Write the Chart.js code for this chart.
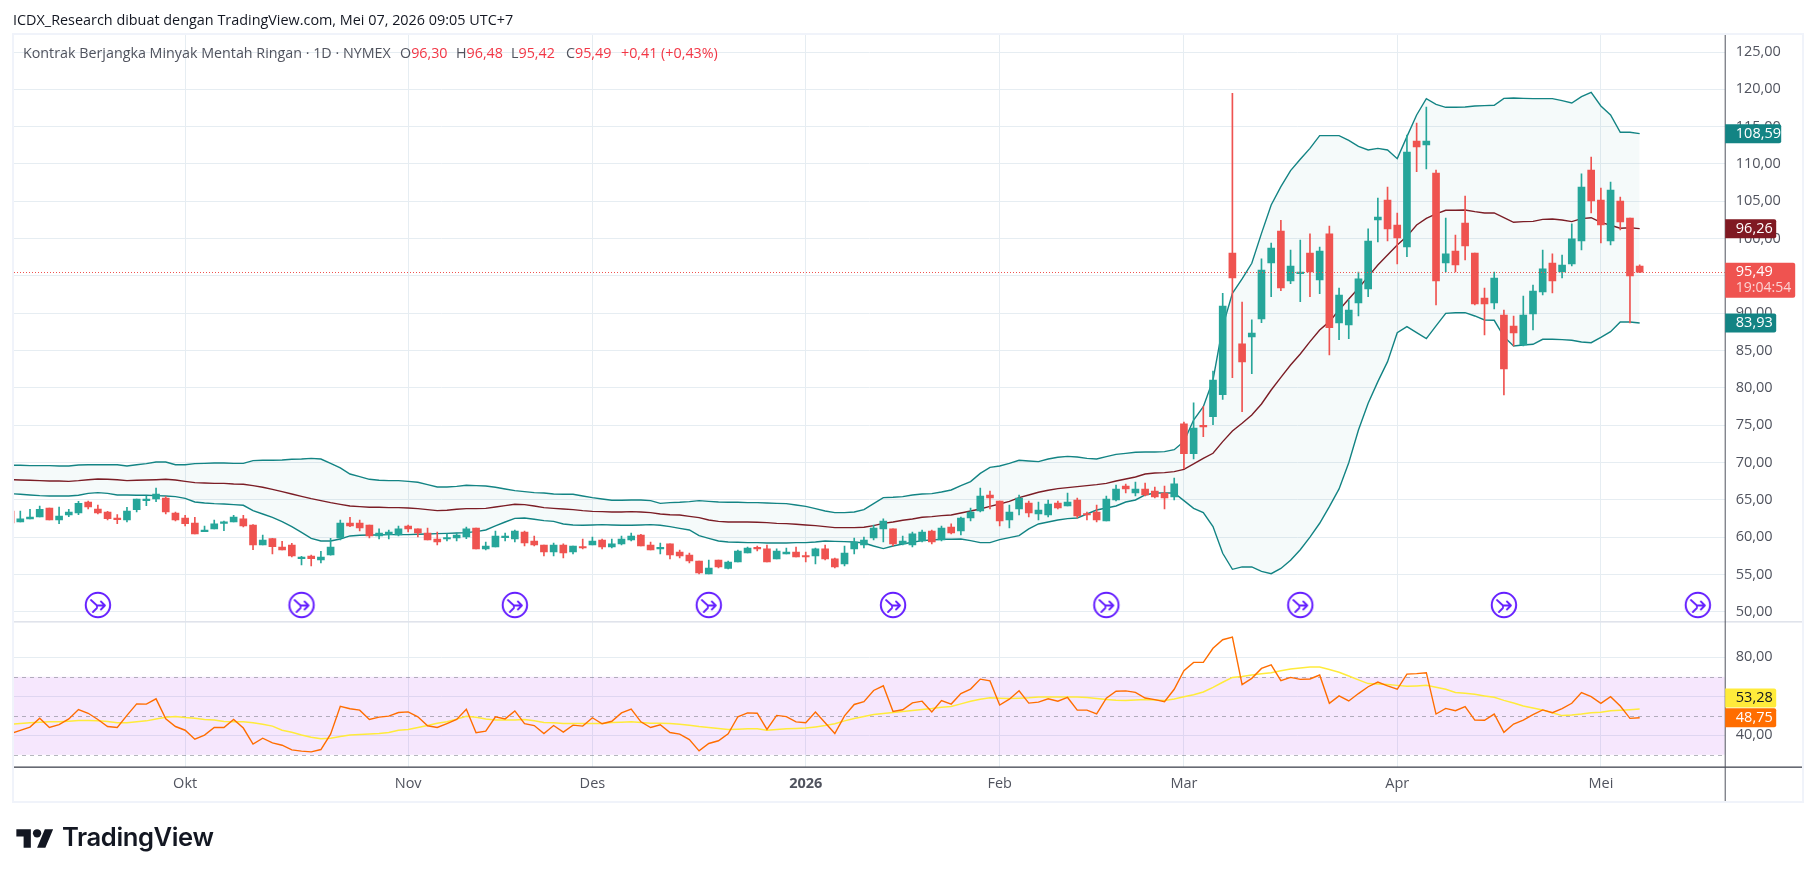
<!DOCTYPE html>
<html><head><meta charset="utf-8">
<script src="https://cdn.jsdelivr.net/npm/chart.js@4/dist/chart.umd.js"></script>
<style>
html,body{margin:0;padding:0;background:#fff;width:1814px;height:877px;overflow:hidden}
canvas{position:absolute;left:0;top:0}
.t{position:absolute;white-space:pre;font-family:"Open Sans",sans-serif}
#title{left:13px;top:10px;font-size:14.4px;color:#131722}
.lg{top:43px;font-size:14.3px;color:#50535e}
.lg b{font-weight:400;color:#f23645}
#brand{left:62px;top:821px;font-family:Inter,sans-serif;font-weight:600;font-size:25.6px;color:#131722;letter-spacing:-.4px}
#logo{position:absolute;left:16px;top:825px}
</style></head><body>
<canvas id="c" width="1814" height="877"></canvas>
<div class="t" id="title">ICDX_Research dibuat dengan TradingView.com, Mei 07, 2026 09:05 UTC+7</div>
<div class="t lg" style="left:23px">Kontrak Berjangka Minyak Mentah Ringan · 1D · NYMEX</div>
<div class="t lg" style="left:400px">O<b>96,30</b></div>
<div class="t lg" style="left:456px">H<b>96,48</b></div>
<div class="t lg" style="left:511px">L<b>95,42</b></div>
<div class="t lg" style="left:566px">C<b>95,49</b></div>
<div class="t lg" style="left:621px"><b>+0,41 (+0,43%)</b></div>
<svg id="logo" width="38" height="29" viewBox="0 0 36 28"><path fill="#131722" d="M14 22H7V11H0V4h14v18zM28 22h-8l7.5-18h8L28 22z"/><circle fill="#131722" cx="20" cy="8" r="4"/></svg>
<div class="t" id="brand">TradingView</div>
<script>
const opens=[63.5,62.02,62.43,62.69,63.90,62.29,62.96,63.23,64.70,63.76,
63.36,62.38,62.29,63.68,64.88,65.10,65.24,63.23,62.56,61.89,
60.73,61.09,61.84,62.02,62.43,61.62,58.94,59.79,58.67,58.94,
57.11,57.47,56.93,57.60,59.88,61.89,61.89,61.62,60.15,60.33,
60.28,61.49,61.09,60.55,59.74,59.74,59.88,60.01,61.22,58.41,
58.67,59.92,59.74,60.68,59.48,58.94,58.00,58.94,58.00,58.67,
58.94,59.61,58.67,59.08,59.61,60.28,58.94,58.41,59.08,58.00,
57.60,56.80,55.06,56.93,55.81,56.66,57.87,58.58,58.41,57.07,
57.73,58.00,57.47,57.47,58.41,57.07,56.39,58.41,58.94,59.88,
61.09,61.09,59.08,58.94,59.48,60.82,59.61,61.35,60.82,62.56,
63.50,65.64,64.84,62.29,63.76,64.57,63.09,62.96,64.57,64.17,
64.97,63.09,63.36,62.16,64.97,66.85,65.91,66.44,66.18,65.91,
65.37,75.16,71.18,74.85,76.14,79.09,98.07,85.88,86.82,89.23,
96.73,101.02,94.32,95.3,98.07,94.45,100.62,88.69,88.42,91.37,
93.25,102.49,105.17,101.82,98.87,113.08,112.54,108.79,96.73,98.34,
102.09,98.07,92.04,91.37,89.76,88.29,85.74,89.9,92.85,96.73,
95.52,96.6,99.68,109.19,105.17,99.68,105.04,102.76,96.30];
const highs=[63.6,63.50,63.72,64.17,63.90,64.03,63.72,64.79,64.84,64.30,
63.45,63.01,63.99,65.10,65.51,66.58,65.42,63.36,62.92,62.65,
61.49,62.29,62.16,62.92,62.92,61.67,60.28,59.83,59.43,59.16,
57.42,57.60,58.09,59.83,62.29,62.65,62.29,61.62,61.09,60.95,
61.49,61.62,61.09,61.22,60.68,60.42,60.55,61.35,61.22,59.34,
60.82,60.55,60.95,60.82,60.15,58.94,59.21,59.08,58.81,59.74,
60.01,59.74,59.74,60.15,60.55,60.37,59.34,59.21,59.08,58.27,
57.87,56.80,56.93,56.93,56.80,58.27,58.67,58.81,58.94,58.41,
58.54,58.67,58.00,58.54,58.94,57.20,58.81,59.88,60.01,61.62,
62.43,61.09,60.15,60.68,60.95,60.95,61.49,61.76,62.69,63.90,
66.58,66.18,64.84,64.30,65.64,64.84,64.70,64.97,64.84,65.91,
65.24,63.36,64.30,65.51,66.98,67.11,67.38,67.25,66.71,66.85,
67.92,75.4,78.0,77.48,82.26,92.67,119.46,91.5,89.1,97.27,
99.41,102.45,98.47,99.81,100.62,98.87,101.69,93.38,91.8,95.52,
101.29,105.44,106.91,103.43,113.88,115.49,117.63,109.19,102.76,100.48,
105.71,98.07,93.38,95.52,90.43,89.63,92.31,93.78,98.47,97.94,
97.8,101.96,108.66,110.93,106.78,107.58,105.57,102.76,96.48];
const lows=[61.5,62.02,62.43,62.69,62.29,61.80,62.74,63.01,63.76,63.09,
62.29,61.80,62.02,63.36,64.21,64.75,63.09,62.16,61.49,60.42,
60.73,61.09,60.86,62.02,61.35,58.32,58.94,57.73,58.27,57.33,
56.26,56.13,56.53,57.56,59.61,61.40,60.82,59.88,59.74,59.74,
60.15,60.68,60.01,59.61,58.94,59.48,59.48,59.79,58.41,58.27,
58.67,59.48,59.34,58.81,58.81,57.47,57.47,57.20,57.73,58.41,
58.94,58.41,58.54,58.94,59.48,58.81,58.27,57.73,57.07,57.20,
56.53,55.06,55.06,55.86,55.72,56.66,57.87,58.14,56.66,57.07,
57.73,57.33,56.66,56.39,56.93,55.86,56.13,57.73,58.54,59.61,
59.34,58.81,58.94,58.67,59.34,59.08,59.48,60.42,60.28,62.16,
63.36,63.76,61.49,61.22,62.96,62.69,62.29,62.69,63.76,64.17,
62.56,62.29,62.02,62.16,64.84,65.91,65.51,65.51,65.24,63.76,
64.97,69.17,70.47,73.46,75.07,78.46,81.37,76.81,81.9,88.74,
92.22,93.02,93.96,91.55,92.22,92.62,84.4,86.46,86.59,89.63,
92.22,99.54,99.68,96.6,97.58,108.97,109.33,91.1,95.52,95.52,
97.13,91.1,87.08,90.57,79.04,85.61,85.61,87.76,92.44,92.71,
94.72,96.33,98.47,103.43,99.41,99.14,101.15,88.69,95.42];
const closes=[61.9,62.43,62.69,63.72,62.29,62.83,63.36,64.52,64.03,63.23,
62.47,62.34,63.50,65.10,65.06,65.77,63.36,62.29,61.80,60.42,
60.95,61.76,61.93,62.69,61.49,58.94,59.61,58.72,58.27,57.47,
57.20,57.11,57.33,58.67,61.89,61.49,61.22,60.15,60.55,60.68,
61.09,61.09,60.55,59.61,59.34,59.88,60.28,61.09,58.41,58.81,
60.15,60.01,60.82,59.21,58.94,58.00,58.94,57.87,58.81,58.54,
59.48,58.67,59.08,59.74,60.15,58.81,58.27,58.54,57.60,57.47,
56.80,55.19,55.86,56.00,56.66,58.14,58.54,58.41,56.66,58.14,
58.00,57.33,57.33,58.41,57.07,56.00,57.87,59.34,59.61,61.22,
62.16,59.08,59.48,60.42,60.68,59.34,61.22,60.55,62.56,63.36,
65.51,65.24,62.16,63.36,65.24,63.23,63.63,64.43,63.90,64.70,
62.83,62.96,62.29,65.10,66.44,66.44,66.44,65.64,65.37,65.24,
67.12,71.18,74.62,74.76,81.05,90.97,94.72,83.47,87.35,95.79,
98.74,93.38,96.33,95.52,95.52,98.34,88.07,92.44,90.43,94.59,
99.68,102.89,101.29,100.08,111.6,112.27,113.08,94.32,97.94,96.46,
99.01,91.24,91.24,94.72,82.53,87.35,89.76,92.98,95.93,94.32,
96.46,99.95,106.91,105.04,101.82,106.51,102.22,95.0,95.49];
const bbUpper=[69.62,69.62,69.57,69.57,69.57,69.53,69.53,69.66,69.70,69.70,69.70,69.70,69.53,69.70,69.84,70.06,70.06,69.70,69.70,69.84,69.88,69.93,69.93,69.88,69.88,70.24,70.29,70.29,70.33,70.42,70.46,70.55,70.46,69.88,69.26,68.45,68.10,67.74,67.61,67.56,67.56,67.47,67.34,67.03,66.71,66.71,66.80,66.94,66.89,66.85,66.67,66.44,66.22,66.09,65.95,65.91,65.77,65.73,65.73,65.51,65.28,
65.10,64.93,64.93,64.97,64.97,64.88,64.52,64.61,64.66,64.75,64.88,64.79,64.70,64.66,64.66,64.61,64.61,64.57,64.52,64.48,64.30,64.12,63.81,63.50,63.27,63.27,63.36,63.68,64.48,65.28,65.33,65.42,65.64,65.77,65.82,66.04,66.31,66.89,67.43,68.54,69.35,69.53,69.88,70.29,70.20,70.11,70.46,70.69,70.82,70.73,70.55,70.46,70.78,71.09,71.22,71.36,71.40,71.40,71.45,71.71,
72.8,75.69,77.48,81.05,88.2,92.67,94.59,96.69,100.7,104.5,106.96,109.1,110.62,112.09,113.79,113.79,113.79,113.17,112.36,111.87,112.09,111.87,110.71,113.66,116.56,118.75,117.99,117.59,117.59,117.63,117.77,117.81,117.86,118.79,118.84,118.79,118.75,118.75,118.75,118.48,118.17,119.02,119.6,117.77,116.56,114.24,114.24,114.06];
const bbMiddle=[67.69,67.65,67.61,67.56,67.52,67.52,67.47,67.56,67.69,67.78,67.74,67.69,67.56,67.61,67.65,67.69,67.74,67.65,67.47,67.29,67.25,67.20,67.20,67.11,67.07,66.89,66.67,66.40,66.09,65.77,65.46,65.15,64.88,64.61,64.39,64.17,64.08,63.99,63.99,63.94,63.94,63.90,63.81,63.68,63.54,63.59,63.72,63.81,63.81,63.85,64.03,64.21,64.39,64.35,64.17,63.94,63.85,63.76,63.68,63.54,63.45,
63.41,63.36,63.36,63.41,63.36,63.27,63.09,63.00,62.96,62.78,62.60,62.29,62.11,62.02,62.02,62.02,61.98,61.93,61.84,61.80,61.71,61.62,61.53,61.40,61.26,61.26,61.26,61.31,61.53,61.84,62.02,62.25,62.43,62.65,62.74,62.87,62.96,63.23,63.50,63.76,64.12,64.43,64.79,65.28,65.64,66.00,66.27,66.49,66.62,66.76,66.89,67.03,67.20,67.52,67.78,68.05,68.45,68.59,68.63,68.77,
69.08,69.80,70.56,71.23,72.79,74.22,75.25,76.36,77.84,79.71,81.41,83.06,84.54,86.19,87.75,88.87,90.43,91.9,93.34,94.9,96.46,97.8,99.14,100.3,101.82,102.71,103.3,103.79,103.79,103.83,103.61,103.43,103.43,102.8,102.18,102.27,102.31,102.58,102.63,102.49,102.27,102.67,102.8,102.18,101.78,101.38,101.46,101.33];
const bbLower=[65.82,65.73,65.64,65.55,65.51,65.51,65.51,65.60,65.86,65.95,65.86,65.64,65.64,65.60,65.60,65.55,65.51,65.42,65.19,64.70,64.57,64.48,64.43,64.35,64.26,63.54,63.09,62.65,62.07,61.40,60.64,59.83,59.48,59.48,59.74,60.15,60.24,60.28,60.28,60.33,60.33,60.33,60.37,60.42,60.46,60.50,60.55,60.59,60.73,60.95,61.49,62.02,62.51,62.56,62.38,62.20,62.11,61.76,61.62,61.58,61.62,
61.67,61.62,61.58,61.58,61.62,61.67,61.58,61.40,61.17,60.95,60.19,59.83,59.48,59.34,59.30,59.25,59.25,59.21,59.21,59.21,59.25,59.25,59.34,59.48,59.43,59.39,59.34,59.21,58.81,58.45,58.81,59.08,59.30,59.52,59.61,59.70,59.70,59.74,59.52,59.25,59.25,59.66,59.92,60.19,61.09,61.76,62.02,62.29,62.47,62.56,63.09,63.63,63.90,64.17,64.70,64.97,65.64,65.91,65.91,65.91,
64.88,63.85,63.27,61.40,57.83,55.68,56.0,56.0,55.4,55.1,55.8,56.9,58.3,60.0,61.85,64.08,66.45,69.97,74.35,77.93,80.83,83.51,87.39,88.2,87.39,86.59,88.3,89.98,90.07,90.07,89.63,89.09,89.05,86.86,85.61,85.74,85.83,86.5,86.5,86.46,86.37,86.14,86.05,86.77,87.53,88.82,88.82,88.69];
const rsi=[40.9,42.5,44.2,48.8,44.0,45.5,48.4,53.2,51.3,48.1,44.5,44.0,50.2,56.1,56.0,58.7,48.4,44.5,42.6,38.0,40.1,44.0,44.0,48.1,43.7,35.5,38.5,36.1,34.9,32.5,31.9,31.5,32.7,40.6,54.9,53.6,52.9,48.1,49.3,49.8,51.7,52.0,49.5,44.9,44.0,46.0,48.1,53.4,41.3,42.1,49.5,48.4,52.5,46.0,45.0,40.9,45.0,41.6,45.2,
44.7,49.0,45.9,47.2,51.5,53.4,46.9,44.0,45.4,41.4,40.6,37.8,32.0,35.8,37.2,40.8,49.5,51.5,51.3,43.0,50.2,49.6,46.9,46.4,51.9,46.4,40.9,50.0,55.8,57.2,63.0,65.4,52.2,53.1,56.6,57.5,52.0,57.8,56.0,61.4,63.7,68.8,67.9,55.5,58.5,62.8,56.5,57.0,58.7,57.5,59.4,52.9,52.9,51.0,59.0,62.6,62.8,
62.0,59.1,58.3,57.2,63.6,73.1,77.4,77.4,84.6,89.0,90.4,66.0,69.2,74.3,76.1,68.0,69.7,68.7,68.9,70.9,56.4,60.2,57.6,61.4,64.9,67.3,65.3,63.6,71.4,71.6,72.1,50.9,53.8,52.6,54.7,47.8,47.7,50.9,41.5,45.8,47.8,50.6,53.0,51.6,53.7,56.4,61.9,59.8,56.4,59.8,55.0,48.7,49.0];
const rsiMa=[45.7,46.0,46.4,46.7,46.9,46.9,47.2,47.6,47.6,47.4,47.1,46.4,46.4,46.9,47.4,48.4,49.3,49.6,49.1,48.8,48.1,47.8,47.1,46.9,46.9,46.4,45.7,44.7,42.6,41.6,40.2,39.0,38.2,38.5,39.4,40.1,40.4,40.6,40.9,41.4,42.6,43.0,44.0,45.0,46.2,46.9,48.3,49.8,49.3,48.3,47.9,47.9,47.9,48.1,47.4,46.6,46.4,46.0,46.0,
46.0,46.0,46.0,46.6,46.7,46.9,46.6,46.2,46.2,46.0,45.7,45.2,44.5,44.0,43.5,43.0,43.1,43.3,43.3,42.6,43.0,43.3,43.5,43.7,44.3,45.0,45.9,47.4,48.6,49.6,50.7,51.2,51.7,52.2,52.7,53.2,53.7,54.4,54.8,56.1,57.5,58.5,59.2,59.0,58.9,59.0,59.2,59.6,59.7,59.7,59.7,59.7,59.4,58.9,58.4,58.0,57.8,
58.1,58.3,58.1,57.9,58.6,59.8,60.8,62.2,64.6,67.2,69.7,70.2,70.9,71.6,72.1,73.1,74.0,74.5,75.0,75.0,73.7,72.3,70.4,68.4,66.5,66.3,66.1,65.6,65.1,65.3,65.6,64.6,63.6,62.0,61.5,61.0,60.2,59.5,57.9,56.6,55.0,54.0,53.0,51.6,50.1,50.4,50.9,51.6,51.8,52.6,52.8,53.1,53.5];
const xTickIdx=[18,41,60,82,102,121,143,164];
const xTickLabels=["Okt","Nov","Des","2026","Feb","Mar","Apr","Mei"];
const yTicks=[50,55,60,65,70,75,80,85,90,95,100,105,110,115,120,125];
const rsiTicks=[40,60,80];
const rsiLevels=[70,50,30];
const eventIdx=[9,30,52,72,91,113,133,154,174];
const eventLevel=50.9;
const lastClose=95.49;
const upperTag="108,59",middleTag="96,26",lowerTag="83,93",closeTag="95,49",countdownTag="19:04:54",rsiMaTag="53,28",rsiTag="48,75";

const UP='#26a69a',DOWN='#ef5350',GRID='#e6edf2',AXIS='#50535e',FRAME='#f0f3fa',TEAL='#138484',MAROON='#801922';
const FONT='"Open Sans",sans-serif';
const fmt=v=>v.toFixed(2).replace('.',',');
const idx=closes.map((_,i)=>i);
const isUp=i=>closes[i]>=opens[i];
const cols=idx.map(i=>isUp(i)?UP:DOWN);

const icon=document.createElement('canvas');icon.width=30;icon.height=30;
(function(){const g=icon.getContext('2d');g.translate(15,15);g.strokeStyle='#651fff';g.lineWidth=2;g.lineCap='round';g.lineJoin='round';
g.beginPath();g.arc(0,0,12.2,0,Math.PI*2);g.stroke();
g.lineWidth=1.8;
g.beginPath();g.moveTo(-1,0.5);g.lineTo(7,0.5);g.moveTo(3,-3.5);g.lineTo(7,0.5);g.lineTo(3,4.5);
g.moveTo(-7,-5);g.lineTo(-1,0.5);g.lineTo(-1,3);g.moveTo(-5,7);g.lineTo(-1,3);g.stroke();})();

const paneDecor={id:'paneDecor',
beforeDatasetsDraw(ch){const {ctx,chartArea:a,scales:{yRsi:r}}=ch;ctx.save();
 ctx.fillStyle='rgba(165,20,235,0.1)';
 const y70=r.getPixelForValue(rsiLevels[0]),y30=r.getPixelForValue(rsiLevels[2]);
 ctx.fillRect(a.left,y70,a.right-a.left,y30-y70);
 ctx.strokeStyle='rgba(120,123,134,0.55)';ctx.lineWidth=1;ctx.setLineDash([4,4]);
 rsiLevels.forEach(l=>{const p=Math.round(r.getPixelForValue(l))+.5;ctx.beginPath();ctx.moveTo(a.left,p);ctx.lineTo(a.right,p);ctx.stroke();});
 ctx.restore();},
afterDatasetsDraw(ch){const {ctx,chartArea:a,scales:{y}}=ch;ctx.save();
 ctx.strokeStyle=DOWN;ctx.lineWidth=1;ctx.setLineDash([1,2]);
 const p=Math.round(y.getPixelForValue(lastClose))+.5;ctx.beginPath();ctx.moveTo(a.left,p);ctx.lineTo(a.right,p);ctx.stroke();ctx.restore();},
afterDraw(ch){const {ctx,chartArea:a,scales:{y,yRsi:r}}=ch;const R=1803,B=802;ctx.save();
 ctx.fillStyle='#e0e3eb';ctx.fillRect(a.left,621,R-a.left,1.6);
 ctx.fillStyle='#434651';ctx.fillRect(a.left,766.5,R-a.left,1.3);
 ctx.fillStyle=AXIS;ctx.fillRect(a.right,35,1,B-35);
 ctx.strokeStyle=FRAME;ctx.lineWidth=2;ctx.strokeRect(13,34,R-13,B-34);
 function tag(cy,h,w,bg,lines){ctx.fillStyle=bg;ctx.beginPath();ctx.roundRect(a.right+.5,cy-h/2,w,h,[0,2,2,0]);ctx.fill();
  ctx.textAlign='left';ctx.textBaseline='middle';
  lines.forEach(l=>{ctx.font=(l[3]||14.5)+'px '+FONT;ctx.fillStyle=l[1];ctx.fillText(l[0],1735.8,cy+l[2]);});}
 tag(y.getPixelForValue(bbUpper[168]),19,56,TEAL,[[upperTag,'#fff',0]]);
 tag(y.getPixelForValue(bbMiddle[168]),19,51,MAROON,[[middleTag,'#fff',0]]);
 tag(y.getPixelForValue(bbLower[168]),19,51,TEAL,[[lowerTag,'#fff',0]]);
 tag(280.2,35,70,DOWN,[[closeTag,'#fff',-8],[countdownTag,'#fbd3d2',8,14]]);
 const ro=r.getPixelForValue(rsi[168]);
 tag(ro-19.7,19,51,'#ffeb3b',[[rsiMaTag,'#131722',0]]);
 tag(ro,19,51,'#ff6d00',[[rsiTag,'#fff',0]]);
 ctx.restore();}};

new Chart(document.getElementById('c'),{
 type:'bar',
 plugins:[paneDecor],
 data:{datasets:[
  {type:'line',data:idx.map(i=>({x:i,y:bbUpper[i]})),yAxisID:'y',borderColor:TEAL,borderWidth:1.4,pointRadius:0,tension:0,fill:{target:2},backgroundColor:'rgba(8,133,129,0.04)',order:5},
  {type:'line',data:idx.map(i=>({x:i,y:bbMiddle[i]})),yAxisID:'y',borderColor:MAROON,borderWidth:1.4,pointRadius:0,tension:0,fill:false,order:5},
  {type:'line',data:idx.map(i=>({x:i,y:bbLower[i]})),yAxisID:'y',borderColor:TEAL,borderWidth:1.4,pointRadius:0,tension:0,fill:false,order:5},
  {type:'bar',data:idx.map(i=>({x:i,y:[lows[i],highs[i]]})),yAxisID:'y',backgroundColor:cols,barThickness:1,grouped:false,order:3},
  {type:'bar',data:idx.map(i=>({x:i,y:[opens[i],closes[i]]})),yAxisID:'y',backgroundColor:cols,barThickness:7,minBarLength:1.5,grouped:false,order:2},
  {type:'line',data:eventIdx.map(i=>({x:i,y:eventLevel})),yAxisID:'y',showLine:false,pointStyle:icon,pointRadius:13,order:1},
  {type:'line',data:idx.map(i=>({x:i,y:rsiMa[i]})),yAxisID:'yRsi',borderColor:'#ffeb3b',borderWidth:1.5,pointRadius:0,tension:0,fill:false,order:4},
  {type:'line',data:idx.map(i=>({x:i,y:rsi[i]})),yAxisID:'yRsi',borderColor:'#ff6d00',borderWidth:1.4,pointRadius:0,tension:0,fill:false,order:3.5}
 ]},
 options:{responsive:false,animation:false,devicePixelRatio:1,
  layout:{padding:{left:14,top:35,right:11,bottom:75}},
  plugins:{legend:{display:false},tooltip:{enabled:false}},
  scales:{
   x:{type:'linear',min:0.35,max:176.77,offset:false,
    grid:{offset:false,color:GRID,lineWidth:1,drawTicks:false},border:{display:false},
    afterBuildTicks(s){s.ticks=xTickIdx.map(v=>({value:v}));},
    afterFit(s){s.height=35;},
    ticks:{autoSkip:false,maxRotation:0,padding:8,color:AXIS,
     font:c=>({family:FONT,size:14.5,weight:c.tick&&c.tick.value===82?'700':'400'}),
     callback:v=>xTickLabels[xTickIdx.indexOf(v)]||''}},
   y:{type:'linear',position:'right',stack:'panes',stackWeight:587,min:48.62,max:127.28,
    grid:{color:GRID,drawTicks:false},border:{display:false},
    afterBuildTicks(s){s.ticks=yTicks.map(v=>({value:v}));},
    afterFit(s){s.width=78.3;},
    ticks:{autoSkip:false,padding:11,color:AXIS,font:{family:FONT,size:14.5},callback:fmt}},
   yRsi:{type:'linear',position:'right',stack:'panes',stackWeight:145,min:23.74,max:98.1,
    grid:{color:GRID,drawTicks:false},border:{display:false},
    afterBuildTicks(s){s.ticks=rsiTicks.map(v=>({value:v}));},
    afterFit(s){s.width=78.3;},
    ticks:{autoSkip:false,padding:11,color:AXIS,font:{family:FONT,size:14.5},callback:fmt}}
  }}
});
</script></body></html>
